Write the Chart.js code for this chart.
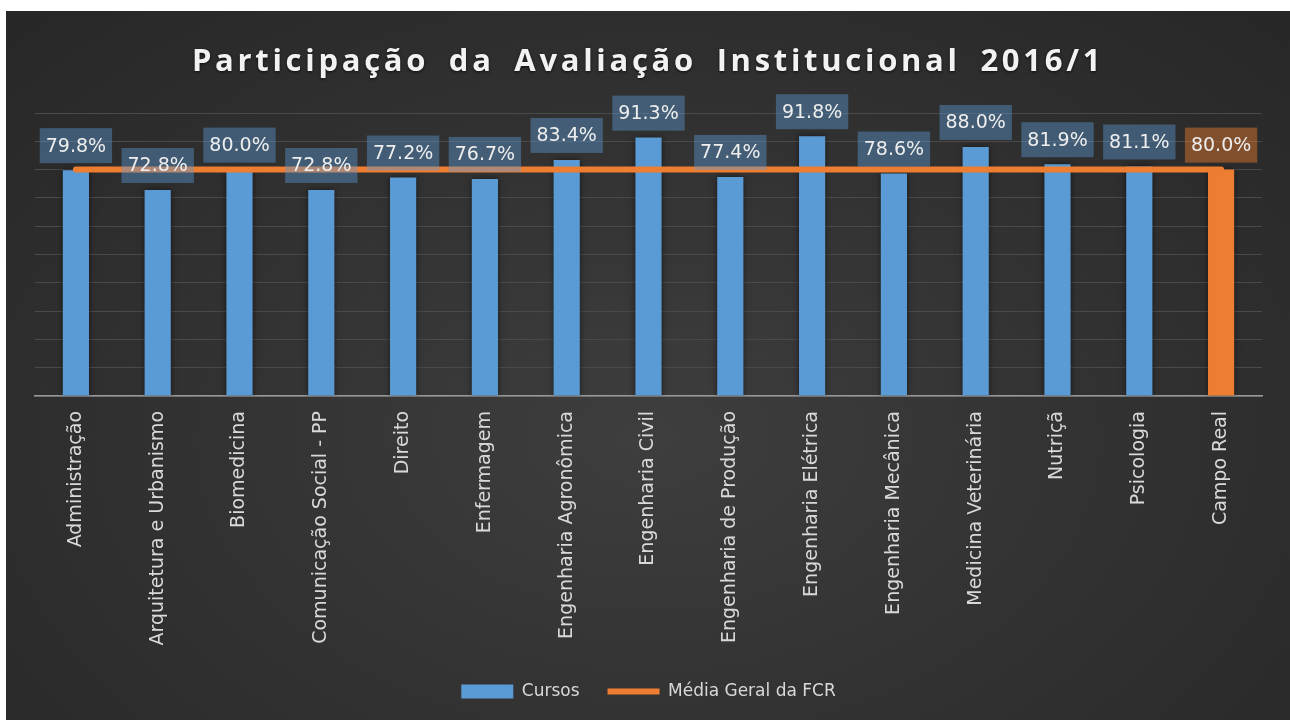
<!DOCTYPE html>
<html>
<head>
<meta charset="utf-8">
<script src="https://cdn.jsdelivr.net/npm/chart.js@4/dist/chart.umd.min.js"></script>
<style>
    html, body { margin: 0; padding: 0; background: #fff; }
    #frame {
        position: absolute; left: 6px; top: 11px; width: 1284px; height: 709px;
        background: radial-gradient(ellipse at 50% 60%, #3e3e3e 0%, #333 45%, #272727 100%);
        overflow: hidden;
    }
    #title {
        position: absolute; left: 0; right: 0; top: 28px;
        text-align: center; color: #f2f2f2;
        font: bold 31px "Open Sans", sans-serif; letter-spacing: 3.7px; word-spacing: 8px;
        line-height: 40px; text-shadow: 0 1px 3px rgba(0,0,0,0.7);
    }
    #chart { position: absolute; left: 0; top: 0; }
</style>
</head>
<body>
<div id="frame">
    <canvas id="chart" width="1284" height="709"></canvas>
    <div id="title">Participação da Avaliação Institucional 2016/1</div>
</div>
<script>
(function () {
    "use strict";

    const cursos = [
        "Administração", "Arquitetura e Urbanismo", "Biomedicina", "Comunicação Social - PP",
        "Direito", "Enfermagem", "Engenharia Agronômica", "Engenharia Civil",
        "Engenharia de Produção", "Engenharia Elétrica", "Engenharia Mecânica",
        "Medicina Veterinária", "Nutriçã", "Psicologia", "Campo Real"
    ];
    const participacao = [79.8, 72.8, 80.0, 72.8, 77.2, 76.7, 83.4, 91.3, 77.4, 91.8, 78.6, 88.0, 81.9, 81.1, 80.0];
    const mediaGeral = [80.0, 80.0, 80.0, 80.0, 80.0, 80.0, 80.0, 80.0, 80.0, 80.0, 80.0, 80.0, 80.0, 80.0, 80.0];

    const blue = '#5b9bd5';
    const orange = '#ed7d31';
    const barColors = cursos.map((c, i) => i === cursos.length - 1 ? orange : blue);

    // value boxes above each bar (Excel style data labels)
    const valueLabels = {
        id: 'valueLabels',
        beforeDatasetDraw(chart, args) {
            if (args.meta.type !== 'bar') return;
            const ctx = chart.ctx;
            ctx.shadowColor = 'rgba(0,0,0,0.55)';
            ctx.shadowBlur = 6;
        },
        afterDatasetDraw(chart, args) {
            if (args.meta.type !== 'bar') return;
            chart.ctx.shadowColor = 'rgba(0,0,0,0)';
            chart.ctx.shadowBlur = 0;
        },
        afterDatasetsDraw(chart) {
            const ctx = chart.ctx;
            const meta = chart.getDatasetMeta(0);
            ctx.save();
            ctx.font = '19px "DejaVu Sans", sans-serif';
            ctx.textAlign = 'center';
            ctx.textBaseline = 'middle';
            meta.data.forEach((bar, i) => {
                const text = participacao[i].toFixed(1) + '%';
                const w = ctx.measureText(text).width + 12;
                const h = 35;
                const bottom = bar.y - 7;
                const last = i === participacao.length - 1;
                ctx.fillStyle = last ? 'rgba(237,125,49,0.45)' : 'rgba(91,155,213,0.42)';
                ctx.fillRect(bar.x - w / 2, bottom - h, w, h);
                ctx.fillStyle = '#eeeeee';
                ctx.fillText(text, bar.x, bottom - h / 2 + 1);
            });
            ctx.restore();
        }
    };

    const ctx = document.getElementById('chart');
    new Chart(ctx, {
        type: 'bar',
        data: {
            labels: cursos,
            datasets: [
                {
                    label: 'Cursos',
                    data: participacao,
                    backgroundColor: barColors,
                    borderWidth: 0,
                    barPercentage: 0.32,
                    categoryPercentage: 1,
                    order: 1
                },
                {
                    type: 'line',
                    label: 'Média Geral da FCR',
                    data: mediaGeral,
                    borderColor: orange,
                    backgroundColor: orange,
                    borderWidth: 6,
                    borderCapStyle: 'round',
                    pointRadius: 0,
                    pointHoverRadius: 0,
                    order: 0
                }
            ]
        },
        options: {
            responsive: false,
            animation: false,
            layout: { padding: { left: 29, right: 28, top: 102, bottom: 10 } },
            plugins: {
                tooltip: { enabled: false },
                legend: {
                    position: 'bottom',
                    labels: {
                        usePointStyle: true,
                        pointStyleWidth: 52,
                        boxHeight: 14,
                        padding: 28,
                        color: '#d9d9d9',
                        font: { family: '"DejaVu Sans", sans-serif', size: 17 },
                        sort: (a, b) => a.datasetIndex - b.datasetIndex,
                        generateLabels(chart) {
                            return [
                                { text: 'Cursos', datasetIndex: 0, fillStyle: blue, strokeStyle: blue, lineWidth: 0, pointStyle: 'rect', fontColor: '#d9d9d9' },
                                { text: 'Média Geral da FCR', datasetIndex: 1, fillStyle: orange, strokeStyle: orange, lineWidth: 6, pointStyle: 'line', fontColor: '#d9d9d9' }
                            ];
                        }
                    }
                }
            },
            scales: {
                x: {
                    grid: { display: false, drawTicks: false },
                    border: { color: '#9a9a9a', width: 1.5 },
                    ticks: {
                        color: '#d9d9d9',
                        font: { family: '"DejaVu Sans", sans-serif', size: 19 },
                        minRotation: 90,
                        maxRotation: 90,
                        padding: 15,
                        autoSkip: false
                    },
                    afterFit(scale) { scale.height = 259; }
                },
                y: {
                    min: 0,
                    max: 100,
                    ticks: { display: false, stepSize: 10 },
                    grid: { color: '#4a4a4a', lineWidth: 1, drawTicks: false },
                    border: { display: false }
                }
            }
        },
        plugins: [valueLabels]
    });
})();
</script>
</body>
</html>
